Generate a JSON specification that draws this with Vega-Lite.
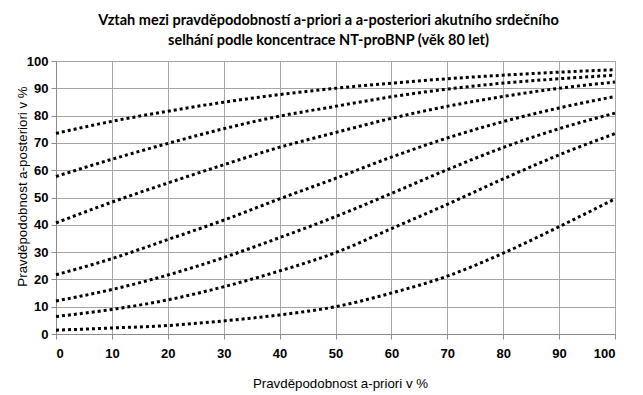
{
  "$schema": "https://vega.github.io/schema/vega-lite/v6.json",
  "autosize": {"type": "none"},
  "width": 559,
  "height": 273,
  "padding": {"left": 56, "top": 61, "right": 28, "bottom": 61},
  "background": "white",
  "title": {
    "text": ["Vztah mezi pravděpodobností a-priori a a-posteriori akutního srdečního", "selhání podle koncentrace NT-proBNP (věk 80 let)"],
    "anchor": "middle",
    "frame": "group",
    "dx": -7,
    "offset": 7,
    "font": "Lato",
    "fontSize": 14.5,
    "fontWeight": "bold",
    "lineHeight": 20,
    "color": "#000000"
  },
  "data": {
    "values": [
      {"c": "1", "p": 0, "post": 73.5}, {"c": "1", "p": 10, "post": 77.9}, {"c": "1", "p": 20, "post": 81.6}, {"c": "1", "p": 30, "post": 84.9}, {"c": "1", "p": 40, "post": 87.7}, {"c": "1", "p": 50, "post": 90.0}, {"c": "1", "p": 60, "post": 91.9}, {"c": "1", "p": 70, "post": 93.5}, {"c": "1", "p": 80, "post": 94.8}, {"c": "1", "p": 90, "post": 95.9}, {"c": "1", "p": 100, "post": 96.8},
      {"c": "2", "p": 0, "post": 57.7}, {"c": "2", "p": 10, "post": 64.0}, {"c": "2", "p": 20, "post": 69.8}, {"c": "2", "p": 30, "post": 75.2}, {"c": "2", "p": 40, "post": 79.8}, {"c": "2", "p": 50, "post": 83.4}, {"c": "2", "p": 60, "post": 86.9}, {"c": "2", "p": 70, "post": 89.7}, {"c": "2", "p": 80, "post": 91.9}, {"c": "2", "p": 90, "post": 93.5}, {"c": "2", "p": 100, "post": 94.8},
      {"c": "3", "p": 0, "post": 40.7}, {"c": "3", "p": 10, "post": 48.3}, {"c": "3", "p": 20, "post": 55.3}, {"c": "3", "p": 30, "post": 62.0}, {"c": "3", "p": 40, "post": 68.4}, {"c": "3", "p": 50, "post": 73.8}, {"c": "3", "p": 60, "post": 79.0}, {"c": "3", "p": 70, "post": 83.4}, {"c": "3", "p": 80, "post": 87.0}, {"c": "3", "p": 90, "post": 90.0}, {"c": "3", "p": 100, "post": 92.3},
      {"c": "4", "p": 0, "post": 21.7}, {"c": "4", "p": 10, "post": 27.6}, {"c": "4", "p": 20, "post": 34.6}, {"c": "4", "p": 30, "post": 41.7}, {"c": "4", "p": 40, "post": 49.5}, {"c": "4", "p": 50, "post": 57.0}, {"c": "4", "p": 60, "post": 64.8}, {"c": "4", "p": 70, "post": 71.8}, {"c": "4", "p": 80, "post": 77.8}, {"c": "4", "p": 90, "post": 82.8}, {"c": "4", "p": 100, "post": 87.0},
      {"c": "5", "p": 0, "post": 12.1}, {"c": "5", "p": 10, "post": 16.3}, {"c": "5", "p": 20, "post": 21.6}, {"c": "5", "p": 30, "post": 28.0}, {"c": "5", "p": 40, "post": 35.3}, {"c": "5", "p": 50, "post": 43.0}, {"c": "5", "p": 60, "post": 51.5}, {"c": "5", "p": 70, "post": 60.2}, {"c": "5", "p": 80, "post": 68.3}, {"c": "5", "p": 90, "post": 75.2}, {"c": "5", "p": 100, "post": 80.9},
      {"c": "6", "p": 0, "post": 6.4}, {"c": "6", "p": 10, "post": 9.0}, {"c": "6", "p": 20, "post": 12.5}, {"c": "6", "p": 30, "post": 17.3}, {"c": "6", "p": 40, "post": 23.1}, {"c": "6", "p": 50, "post": 29.8}, {"c": "6", "p": 60, "post": 38.6}, {"c": "6", "p": 70, "post": 47.5}, {"c": "6", "p": 80, "post": 56.8}, {"c": "6", "p": 90, "post": 65.6}, {"c": "6", "p": 100, "post": 73.4},
      {"c": "7", "p": 0, "post": 1.4}, {"c": "7", "p": 10, "post": 2.2}, {"c": "7", "p": 20, "post": 3.1}, {"c": "7", "p": 30, "post": 4.8}, {"c": "7", "p": 40, "post": 7.0}, {"c": "7", "p": 50, "post": 10.0}, {"c": "7", "p": 60, "post": 15.0}, {"c": "7", "p": 70, "post": 21.2}, {"c": "7", "p": 80, "post": 29.6}, {"c": "7", "p": 90, "post": 39.3}, {"c": "7", "p": 100, "post": 49.5}
    ]
  },
  "mark": {
    "type": "line",
    "interpolate": "monotone",
    "color": "#000000",
    "strokeWidth": 3,
    "strokeDash": [3, 3],
    "strokeCap": "butt"
  },
  "encoding": {
    "x": {
      "field": "p",
      "type": "quantitative",
      "scale": {"domain": [0, 100], "nice": false, "zero": false},
      "axis": {
        "values": [0, 10, 20, 30, 40, 50, 60, 70, 80, 90, 100],
        "title": "Pravděpodobnost a-priori v %",
        "titleFont": "Liberation Sans",
        "titleFontSize": 13.3,
        "titleFontWeight": "normal",
        "titleColor": "#000000",
        "titlePadding": 16,
        "titleX": 284,
        "labelFont": "Liberation Sans",
        "labelFontSize": 13,
        "labelFontWeight": "bold",
        "labelColor": "#000000",
        "labelPadding": 8,
        "tickSize": 5,
        "tickColor": "#8c8c8c",
        "domainColor": "#8c8c8c",
        "gridColor": "#a6a6a6",
        "gridWidth": 1
      }
    },
    "y": {
      "field": "post",
      "type": "quantitative",
      "scale": {"domain": [0, 100], "nice": false},
      "axis": {
        "values": [0, 10, 20, 30, 40, 50, 60, 70, 80, 90, 100],
        "title": "Pravděpodobnost a-posteriori v %",
        "titleFont": "Liberation Sans",
        "titleFontSize": 13.3,
        "titleFontWeight": "normal",
        "titleColor": "#000000",
        "titleX": -34,
        "titleY": 125,
        "titleBaseline": "middle",
        "titleAlign": "center",
        "titleAngle": -90,
        "labelFont": "Liberation Sans",
        "labelFontSize": 13,
        "labelFontWeight": "bold",
        "labelColor": "#000000",
        "labelPadding": 3,
        "tickSize": 5,
        "tickColor": "#8c8c8c",
        "domainColor": "#8c8c8c",
        "gridColor": "#a6a6a6",
        "gridWidth": 1
      }
    },
    "detail": {"field": "c", "type": "nominal"}
  },
  "config": {
    "view": {"stroke": "#a6a6a6"}
  }
}
